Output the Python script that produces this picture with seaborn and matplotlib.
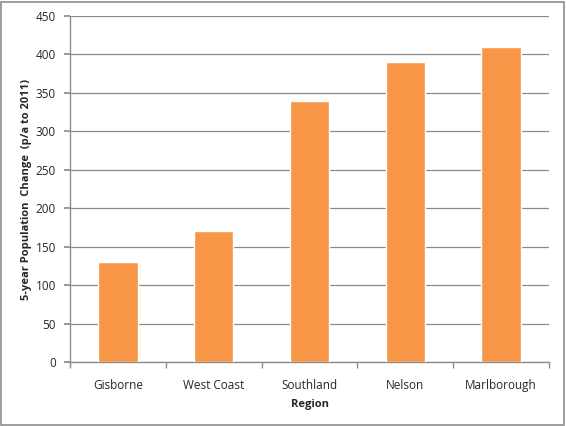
import pandas as pd
import seaborn as sns
import matplotlib.pyplot as plt
from matplotlib.patches import Rectangle

regions = ["Gisborne", "West Coast", "Southland", "Nelson", "Marlborough"]
change = [130, 170, 340, 390, 410]
y_ticks = list(range(0, 451, 50))

data = pd.DataFrame({"Region": regions, "Change": change})

sns.set_theme(style="white")
plt.rcParams['font.family'] = ['Open Sans', 'DejaVu Sans']

fig = plt.figure(figsize=(5.66, 4.26), dpi=100)
ax = fig.add_axes([70 / 566, 64 / 426, 479 / 566, 346 / 426])

sns.barplot(data=data, x="Region", y="Change", color="#F79646", width=0.41,
            saturation=1, ax=ax, zorder=3)

ax.set_ylim(0, 450)
ax.set_xlim(-0.5, 4.5)
ax.set_yticks(y_ticks)
ax.yaxis.grid(True, color="#8c8c8c", linewidth=0.9, zorder=0)
ax.set_axisbelow(True)

for side in ["top", "right"]:
    ax.spines[side].set_visible(False)
for side in ["left", "bottom"]:
    ax.spines[side].set_color("#8c8c8c")
    ax.spines[side].set_linewidth(1.0)

ax.tick_params(axis="y", which="both", left=True, length=4, color="#8c8c8c",
               labelsize=8.5, pad=6)
ax.tick_params(axis="x", which="major", bottom=False, labelsize=8.5, pad=6)
ax.set_xticks([0.5 + i for i in range(-1, 5)], minor=True)
ax.tick_params(axis="x", which="minor", bottom=True, length=4, color="#8c8c8c")

ax.set_xlabel("Region", fontsize=8, fontweight="bold", labelpad=5)
ax.set_ylabel("5-year Population  Change  (p/a to 2011)", fontsize=8,
              fontweight="bold", labelpad=3)

fig.patches.append(Rectangle((1 / 566, 1 / 426), 563 / 566, 423 / 426,
                             transform=fig.transFigure, fill=False,
                             edgecolor="#8c8c8c", linewidth=1.2))

fig.savefig("out.png", dpi=100)
